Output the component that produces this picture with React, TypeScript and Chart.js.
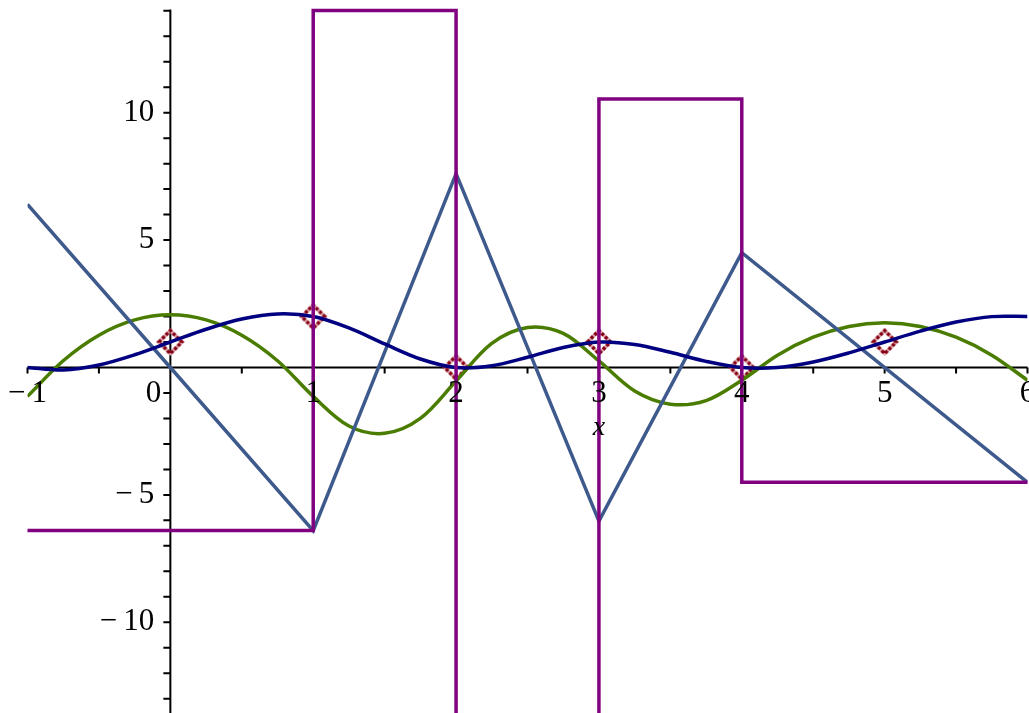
import React, { useEffect, useRef } from "react";
import { Chart, registerables } from "chart.js";

Chart.register(...registerables);

const sampleX = [
  -1, -0.75, -0.5, -0.25, 0, 0.25, 0.5, 0.75, 1, 1.25, 1.5, 1.75, 2, 2.25, 2.5, 2.75,
  3, 3.25, 3.5, 3.75, 4, 4.25, 4.5, 4.75, 5, 5.25, 5.5, 5.75, 6,
];
const splineY = [
  0.0, -0.1, 0.1, 0.5, 1.0, 1.5, 1.9, 2.1, 2.0, 1.553, 0.925, 0.334, 0.0, 0.069, 0.401, 0.783,
  1.0, 0.904, 0.595, 0.239, 0.0, 0.004, 0.218, 0.574, 1.0, 1.426, 1.782, 1.996, 2.0,
];
// First derivative (green)
const slopeY = [
  -1.134, 0.266, 1.267, 1.867, 2.067, 1.867, 1.267, 0.266, -1.134, -2.297, -2.584, -1.995,
  -0.531, 0.945, 1.568, 1.339, 0.258, -0.92, -1.439, -1.3, -0.502, 0.484, 1.188, 1.61, 1.751,
  1.61, 1.188, 0.484, -0.502,
];
// Second derivative (piecewise linear)
const curvX = [-1, 0, 1, 2, 3, 4, 6];
const curvY = [6.402, 0, -6.402, 7.608, -6.029, 4.507, -4.507];
// Third derivative (piecewise constant)
const jerkX = [-1, 1, 2, 3, 4, 6];
const jerkY = [-6.402, 14.01, -13.636, 10.536, -4.507, -4.507];
// Data points
const pointX = [0, 1, 2, 3, 4, 5];
const pointY = [1, 2, 0, 1, 0, 1];

const xTicks = [-1, -0.5, 0, 0.5, 1, 1.5, 2, 2.5, 3, 3.5, 4, 4.5, 5, 5.5, 6];
const yTicks = [-13, -12, -11, -10, -9, -8, -7, -6, -5, -4, -3, -2, -1, 0, 1, 2, 3, 4, 5, 6, 7, 8, 9, 10, 11, 12, 13, 14];
const xLabelValues = [-1, 0, 1, 2, 3, 4, 5, 6];
const xLabels = ["\u2212\u20091", "0", "1", "2", "3", "4", "5", "6"];
const yLabelValues = [-10, -5, 5, 10];
const yLabels = ["\u2212\u200910", "\u2212\u20095", "5", "10"];
const axisTitle = "x";

const zip = (xs: number[], ys: number[]) => xs.map((x, i) => ({ x, y: ys[i] }));

export default function App() {
  const ref = useRef<HTMLCanvasElement>(null);

  useEffect(() => {
    const canvas = ref.current;
    if (!canvas) return;

    // diamond marker
    const m = document.createElement("canvas");
    m.width = 30;
    m.height = 30;
    const mc = m.getContext("2d")!;
    const r = 11.5;
    const path = () => {
      mc.beginPath();
      mc.moveTo(15 - r, 15);
      mc.lineTo(15, 15 - r);
      mc.lineTo(15 + r, 15);
      mc.lineTo(15, 15 + r);
      mc.closePath();
    };
    path();
    mc.lineWidth = 3.5;
    mc.strokeStyle = "#dca4ad";
    mc.stroke();
    path();
    mc.setLineDash([3, 2]);
    mc.lineWidth = 3.5;
    mc.strokeStyle = "#850012";
    mc.stroke();

    const axesPlugin = {
      id: "mapleAxes",
      beforeDatasetsDraw(chart: any) {
        const { ctx } = chart;
        const xs = chart.scales.x;
        const ys = chart.scales.y;
        const x0 = xs.getPixelForValue(0);
        const y0 = ys.getPixelForValue(0);
        ctx.save();
        ctx.strokeStyle = "#000";
        ctx.lineWidth = 2;
        ctx.beginPath();
        ctx.moveTo(xs.left, y0);
        ctx.lineTo(xs.right, y0);
        ctx.moveTo(x0, ys.top - 1);
        ctx.lineTo(x0, ys.bottom);
        xTicks.forEach((v) => {
          const px = xs.getPixelForValue(v);
          ctx.moveTo(px, y0);
          ctx.lineTo(px, y0 + 6);
        });
        yTicks.forEach((v) => {
          const py = ys.getPixelForValue(v);
          ctx.moveTo(x0 - 7, py);
          ctx.lineTo(x0, py);
        });
        ctx.stroke();
        ctx.restore();
      },
      afterDatasetsDraw(chart: any) {
        const { ctx } = chart;
        const xs = chart.scales.x;
        const ys = chart.scales.y;
        const x0 = xs.getPixelForValue(0);
        const y0 = ys.getPixelForValue(0);
        ctx.save();
        ctx.fillStyle = "#000";
        ctx.font = "31px 'Liberation Serif'";
        ctx.textBaseline = "middle";
        xLabelValues.forEach((v, i) => {
          if (v === 0) {
            ctx.textAlign = "right";
            ctx.fillText(xLabels[i], x0 - 9, y0 + 26.5);
          } else {
            ctx.textAlign = "center";
            ctx.fillText(xLabels[i], xs.getPixelForValue(v), y0 + 26.5);
          }
        });
        ctx.textAlign = "right";
        yLabelValues.forEach((v, i) => {
          ctx.fillText(yLabels[i], x0 - 16, ys.getPixelForValue(v));
        });
        ctx.font = "italic 28px 'Liberation Serif'";
        ctx.textAlign = "center";
        ctx.fillText(axisTitle, xs.getPixelForValue(3), y0 + 60.5);
        ctx.restore();
      },
    };

    const chart = new Chart(canvas, {
      type: "line",
      data: {
        datasets: [
          {
            data: zip(jerkX, jerkY),
            borderColor: "#800080",
            borderWidth: 3.5,
            stepped: "before",
            pointRadius: 0,
            clip: 4,
            order: 1,
          } as any,
          {
            data: zip(sampleX, splineY),
            borderColor: "#000080",
            borderWidth: 3.5,
            tension: 0.33,
            pointRadius: 0,
            order: 2,
          },
          {
            data: zip(curvX, curvY),
            borderColor: "#3e5a8c",
            borderWidth: 3.5,
            tension: 0,
            pointRadius: 0,
            order: 3,
          },
          {
            data: zip(sampleX, slopeY),
            borderColor: "#4a7c00",
            borderWidth: 3.5,
            tension: 0.33,
            pointRadius: 0,
            order: 4,
          },
          {
            data: zip(pointX, pointY),
            showLine: false,
            pointStyle: m as any,
            pointRadius: 12,
            order: 10,
          },
        ],
      },
      options: {
        animation: false,
        responsive: false,
        events: [],
        layout: { autoPadding: false, padding: { left: 27.5, right: 1.5, top: 10.5, bottom: 0 } },
        scales: {
          x: { type: "linear", min: -1, max: 6, display: false },
          y: { type: "linear", min: -13.56, max: 14.01, display: false },
        },
        plugins: { legend: { display: false }, tooltip: { enabled: false } },
      },
      plugins: [axesPlugin],
    });

    return () => chart.destroy();
  }, []);

  return (
    <div style={{ position: "fixed", left: 0, top: 0, width: 1029, height: 713, background: "#fff" }}>
      <canvas ref={ref} width={1029} height={713} style={{ display: "block" }} />
    </div>
  );
}
